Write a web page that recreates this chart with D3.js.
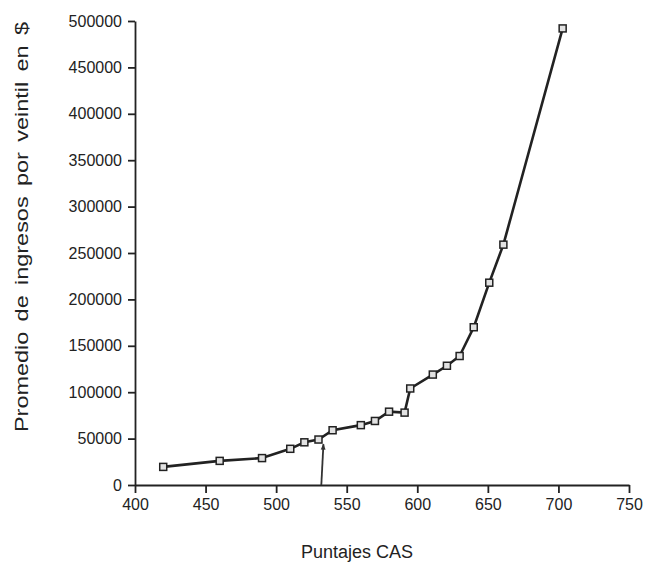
<!DOCTYPE html>
<meta charset="utf-8">
<style>
body { margin: 0; background: #fff; }
text { font-family: "Liberation Sans", Arial, sans-serif; fill: #222; }
.axis path, .axis line { stroke: #222; stroke-width: 1.8px; }
.axis text { font-size: 16px; fill: #222; }
</style>
<svg width="645" height="570"></svg>
<script src="https://cdn.jsdelivr.net/npm/d3@7"></script>
<script>

// puntaje CAS promedio de cada veintil
var puntajes = [420, 460, 490, 510, 520, 530, 540, 560, 570, 580, 591, 595, 611, 621, 630, 640, 651, 661, 703];
// promedio de ingresos por veintil ($)
var ingresos = [19500, 26000, 29000, 39000, 46000, 49000, 59000, 64500, 69000, 79000, 78000, 104000, 119000, 128500, 139000, 170000, 218000, 259000, 492000];

var xTicks = [400, 450, 500, 550, 600, 650, 700, 750];
var yTicks = [0, 50000, 100000, 150000, 200000, 250000, 300000, 350000, 400000, 450000, 500000];

// punto de corte marcado con la flecha
var corte = {x0: 532, x1: 533.5, y0: 0, y1: 44000};

var svg = d3.select("svg"),
    margin = {top: 21, right: 16, bottom: 85, left: 135},
    width = +svg.attr("width") - margin.left - margin.right,
    height = +svg.attr("height") - margin.top - margin.bottom;

var g = svg.append("g")
    .attr("transform", "translate(" + margin.left + "," + margin.top + ")");

var x = d3.scaleLinear().domain([400, 750]).range([0, width]);
var y = d3.scaleLinear().domain([0, 500000]).range([height, 0]);

g.append("g")
    .attr("class", "axis")
    .attr("transform", "translate(0," + height + ")")
    .call(d3.axisBottom(x).tickValues(xTicks).tickSize(8).tickSizeOuter(0).tickPadding(6));

g.append("g")
    .attr("class", "axis")
    .call(d3.axisLeft(y).tickValues(yTicks).tickFormat(d3.format("d"))
        .tickSize(7).tickSizeOuter(0).tickPadding(6));

// flecha
svg.append("defs").append("marker")
    .attr("id", "head")
    .attr("viewBox", "0 0 10 10")
    .attr("refX", 9).attr("refY", 5)
    .attr("markerWidth", 16).attr("markerHeight", 6)
    .attr("markerUnits", "userSpaceOnUse")
    .attr("orient", "auto")
  .append("path")
    .attr("d", "M0,1 L10,5 L0,9 Z")
    .attr("fill", "#333");

g.append("line")
    .attr("x1", x(corte.x0)).attr("y1", y(corte.y0))
    .attr("x2", x(corte.x1)).attr("y2", y(corte.y1))
    .attr("stroke", "#333")
    .attr("stroke-width", 1.8)
    .attr("marker-end", "url(#head)");

var data = puntajes.map(function(p, i) { return {x: p, y: ingresos[i]}; });

g.append("path")
    .datum(data)
    .attr("fill", "none")
    .attr("stroke", "#222")
    .attr("stroke-width", 2.6)
    .attr("d", d3.line()
        .x(function(d) { return x(d.x); })
        .y(function(d) { return y(d.y); }));

g.selectAll(".pt")
    .data(data)
    .enter().append("rect")
      .attr("class", "pt")
      .attr("x", function(d) { return x(d.x) - 3.5; })
      .attr("y", function(d) { return y(d.y) - 3.5; })
      .attr("width", 7)
      .attr("height", 7)
      .attr("fill", "#e2e2e2")
      .attr("stroke", "#222")
      .attr("stroke-width", 1.5);

svg.append("text")
    .attr("x", 357)
    .attr("y", 558)
    .attr("text-anchor", "middle")
    .style("font-size", "18px")
    .text("Puntajes CAS");

svg.append("text")
    .attr("transform", "translate(28,227) rotate(-90)")
    .attr("text-anchor", "middle")
    .attr("textLength", 410)
    .attr("lengthAdjust", "spacingAndGlyphs")
    .style("font-size", "18px")
    .style("word-spacing", "3px")
    .text("Promedio de ingresos por veintil en $");

</script>
